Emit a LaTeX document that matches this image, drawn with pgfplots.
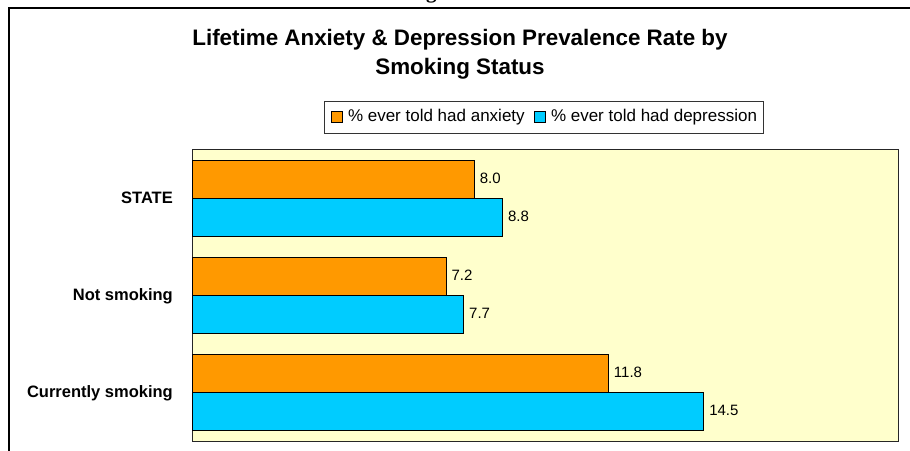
\documentclass[border=0pt]{standalone}
\usepackage{fontspec}
\setmainfont{Liberation Sans}
\newfontfamily\headserif{Liberation Serif}
\usepackage{pgfplots}
\pgfplotsset{compat=1.18}
\definecolor{barorange}{HTML}{FF9900}
\definecolor{barcyan}{HTML}{00CCFF}
\definecolor{plotbg}{HTML}{FFFFCC}

\begin{document}
\begin{tikzpicture}
\useasboundingbox (0bp,0bp) rectangle (910bp,451bp);
\clip (0bp,0bp) rectangle (910bp,451bp);
\fill[white] (0bp,0bp) rectangle (910bp,451bp);
% page heading above the chart frame
\node[anchor=base west, inner sep=0pt, font=\headserif\bfseries\fontsize{21bp}{25bp}\selectfont] at (426bp,452.5bp) {g};
% chart frame
\draw[black, line width=2bp] (9bp,-5bp) -- (9bp,443bp) -- (915bp,443bp);
% title
\node[anchor=base, inner sep=0pt, font=\bfseries\fontsize{22.4bp}{27bp}\selectfont] at (460bp,405.5bp) {Lifetime Anxiety \& Depression Prevalence Rate by};
\node[anchor=base, inner sep=0pt, font=\bfseries\fontsize{22.4bp}{27bp}\selectfont] at (460bp,376.5bp) {Smoking Status};

\begin{axis}[
  at={(192bp,10bp)}, anchor=south west,
  scale only axis, width=706bp, height=291bp,
  xbar, xmin=0, xmax=20, ymin=-0.5, ymax=2.5,
  bar width=0.392,
  xtick=\empty, ytick={0,1,2},
  yticklabels={Currently smoking,Not smoking,STATE},
  major tick length=0pt,
  yticklabel style={font=\bfseries\fontsize{16.5bp}{20bp}\selectfont, anchor=base east, inner sep=0pt, xshift=-19bp, yshift=-5bp},
  axis line style={draw=black!85, line width=1bp},
  axis background/.style={fill=plotbg},
  nodes near coords,
  every node near coord/.append style={font=\fontsize{15bp}{18bp}\selectfont, anchor=base west, inner sep=0pt, xshift=5bp, yshift=-3.8bp, text=black},
  /pgf/number format/.cd, fixed, fixed zerofill, precision=1, assume math mode=true,
  /pgfplots/.cd,
  legend columns=2,
  legend style={at={(0.4984,1.1127)}, anchor=center, draw=black!80, line width=0.8bp, fill=white,
    inner xsep=6bp, inner ysep=8bp, font=\fontsize{17bp}{20bp}\selectfont,
    nodes={inner sep=0pt, text height=12.3bp, text depth=3.6bp},
    /tikz/every odd column/.append style={column sep=5.5bp},
    /tikz/every even column/.append style={column sep=9bp}},
  legend image code/.code={\draw[#1, line width=0.8bp] (0bp,-5.5bp) rectangle (11bp,5.5bp);},
]
% categories from bottom to top: Currently smoking, Not smoking, STATE
\addplot[fill=barorange, draw=black, line width=0.8bp, bar shift=0.196]
  coordinates {(11.8,0) (7.2,1) (8.0,2)};
\addplot[fill=barcyan, draw=black, line width=0.8bp, bar shift=-0.196]
  coordinates {(14.5,0) (7.7,1) (8.8,2)};
\legend{\% ever told had anxiety, \% ever told had depression}
\end{axis}
\end{tikzpicture}
\end{document}
